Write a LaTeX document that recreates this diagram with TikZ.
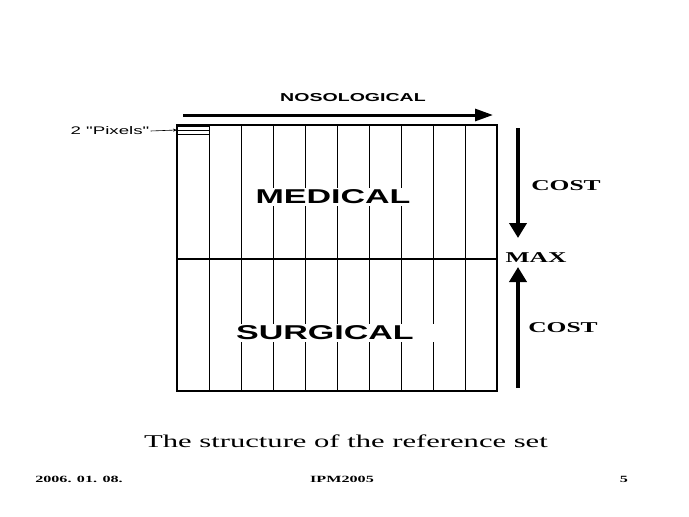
\documentclass[tikz,border=0pt]{standalone}
\usepackage{fontspec}
\newfontfamily\widesans[FakeStretch=1.7]{Liberation Sans}
\newfontfamily\wideserif[FakeStretch=1.7]{Liberation Serif}
\usetikzlibrary{arrows.meta,positioning}

\begin{document}
\begin{tikzpicture}[x=1pt,y=-1pt,>=Latex]
  \tikzstyle{bigword}=[font=\widesans\bfseries\fontsize{20}{22}\selectfont,fill=white,inner xsep=1pt,inner ysep=2pt]
  \tikzstyle{headword}=[font=\widesans\bfseries\fontsize{11.5}{13}\selectfont,inner sep=0pt]
  \tikzstyle{smallsans}=[font=\widesans\fontsize{11}{13}\selectfont,inner sep=1pt]
  \tikzstyle{axisword}=[font=\wideserif\bfseries\fontsize{15}{18}\selectfont,inner sep=0pt]
  \tikzstyle{footword}=[font=\wideserif\bfseries\fontsize{9.5}{11}\selectfont,inner sep=0pt]
  \tikzstyle{fatarrow}=[line width=4pt,-{Triangle[length=15pt,width=17pt]}]
  \useasboundingbox (0,0) rectangle (689,517);
  % reference set grid
  \foreach \i in {1,...,9}
    \draw[line width=0.9pt] ({177+32*\i},125) -- ({177+32*\i},391);
  \draw[line width=1.2pt] (177,259) -- (497,259);
  \draw[line width=2.2pt] (177,125) rectangle (497,391);
  % two pixels
  \draw[line width=1pt] (177,126) rectangle (209,134);
  \draw[line width=1pt] (177,130) -- (209,130);
  \coordinate (pixbox) at (177,130);
  \node[smallsans] (pix) at (110,131) {2 "Pixels"};
  \draw[line width=0.6pt,-{Stealth[length=4pt,width=3pt]}] (pix.east) -- (pixbox);
  % nosological axis
  \coordinate (nosoA) at (183,115);
  \coordinate (nosoB) at (493,115);
  \draw[line width=3pt,-{Triangle[length=18pt,width=12pt]}] (nosoA) -- (nosoB);
  \node[headword] (noso) at (353,98) {NOSOLOGICAL};
  % parts
  \node[bigword] (med) at (333,197) {MEDICAL};
  \node[bigword,anchor=west,text width=202pt,align=left,inner xsep=0pt] (surg) at (236,333) {SURGICAL};
  % cost axis
  \coordinate (downA) at (518,128);
  \coordinate (downB) at (518,238);
  \coordinate (upA) at (518,388);
  \coordinate (upB) at (518,267);
  \draw[fatarrow] (downA) -- (downB);
  \draw[fatarrow] (upA) -- (upB);
  \node[axisword] (cost1) at (566,186) {COST};
  \node[axisword] (max) at (536,258) {MAX};
  \node[axisword] (cost2) at (563,328) {COST};
  % caption and footer
  \node[font=\wideserif\fontsize{18}{20}\selectfont,inner sep=0pt] (caption) at (346,441) {The structure of the reference set};
  \node[footword] (date) at (79,479) {2006. 01. 08.};
  \node[footword] (conf) at (342,479) {IPM2005};
  \node[footword] (page) at (624,479) {5};
\end{tikzpicture}
\end{document}
